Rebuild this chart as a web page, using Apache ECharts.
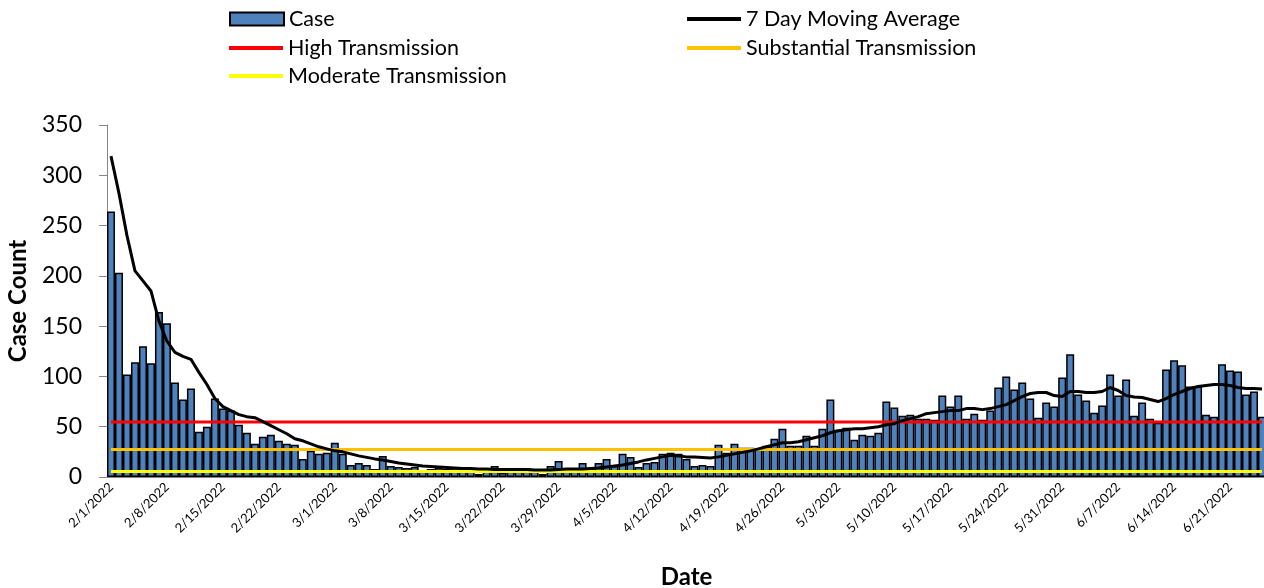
<!DOCTYPE html>
<html>
<head>
<meta charset="utf-8">
<script src="https://cdn.jsdelivr.net/npm/echarts@6/dist/echarts.min.js"></script>
<style>
  html, body { margin: 0; padding: 0; background: #fff; }
  #chart { width: 1264px; height: 588px; }
</style>
</head>
<body>
<div id="chart"></div>
<script>
// daily dates, 2/1/2022 onward (chart is cut at the right edge)
const dates = [];
for (let d = new Date(2022, 1, 1); dates.length < 145; d.setDate(d.getDate() + 1)) {
  dates.push((d.getMonth() + 1) + '/' + d.getDate() + '/' + d.getFullYear());
}

// daily case counts
const cases = [
  264, 203, 102, 114, 130, 113, 164, 153, 94, 77,
  88, 45, 50, 78, 68, 66, 52, 44, 33, 40,
  42, 36, 33, 32, 18, 26, 23, 24, 34, 23,
  12, 14, 12, 8, 21, 11, 10, 9, 10, 7,
  8, 9, 8, 9, 8, 7, 3, 8, 11, 4,
  7, 9, 9, 6, 3, 11, 16, 9, 9, 14,
  9, 14, 18, 11, 23, 20, 10, 14, 15, 23,
  24, 23, 18, 11, 12, 11, 32, 24, 33, 29,
  29, 28, 31, 38, 48, 31, 31, 41, 31, 48,
  77, 47, 49, 37, 42, 41, 44, 75, 69, 61,
  62, 58, 58, 57, 81, 70, 81, 58, 63, 57,
  66, 89, 100, 87, 94, 78, 59, 74, 70, 99,
  122, 82, 76, 64, 71, 102, 81, 97, 61, 74,
  58, 54, 107, 116, 111, 90, 90, 62, 60, 112,
  106, 105, 82, 85, 60
];

// 7 day moving average
const movingAvg = [
  319, 282, 240, 205, 195, 185, 155, 135, 124, 120,
  117, 104, 92, 78, 70, 66, 62, 60, 59, 55,
  51, 47, 43, 38, 36, 33, 30, 28, 26, 25,
  23, 21, 19.5, 18, 17, 15.5, 14, 13, 12, 11,
  10.5, 10, 9.5, 9, 8.5, 8.5, 8, 8, 7.5, 7.5,
  7.5, 7.5, 7.5, 7, 7, 7, 7.5, 8, 8, 8,
  8.5, 9, 10, 11, 12, 13.5, 15, 17, 18.5, 20,
  21.5, 21, 20, 20, 19.5, 19, 20, 21.5, 23, 24.5,
  26, 28, 30, 32, 34, 34, 35, 37, 39, 41,
  44, 46, 47, 48, 48, 49, 50, 52, 53, 56,
  58, 60, 63, 64, 65, 66, 66, 68, 68, 67,
  68, 70, 72, 76, 80, 83, 84, 84, 81, 80,
  85, 85, 84, 84, 85, 89, 86, 81, 79.5, 79,
  77, 75, 78, 82, 85, 88, 90, 91, 92, 92,
  91, 89, 88, 88, 87.5
];

// transmission thresholds (cases per day)
const highLevel = 54.7;
const substantialLevel = 27.35;
const moderateLevel = 5.47;

const font = 'Lato, "Open Sans", sans-serif';

function legendItem(name, left, centerY, isBox) {
  return {
    left: left,
    top: centerY - 12,
    padding: 0,
    itemWidth: 54,
    itemHeight: isBox ? 13 : 4,
    icon: 'rect',
    textStyle: { fontSize: 21.5, color: '#000', fontFamily: font, lineHeight: 24 },
    data: [name]
  };
}

let chart = echarts.init(document.getElementById('chart'));
chart.setOption({
  animation: false,
  textStyle: { fontFamily: font },
  legend: [
    legendItem('Case', 229, 19, true),
    legendItem('High Transmission', 229, 48, false),
    legendItem('Moderate Transmission', 229, 76, false),
    legendItem('7 Day Moving Average', 687, 19, false),
    legendItem('Substantial Transmission', 687, 48, false)
  ],
  grid: { left: 107, top: 125, width: 1159, height: 352, outerBoundsMode: 'none', containLabel: false },
  xAxis: {
    type: 'category',
    data: dates,
    name: 'Date',
    nameLocation: 'middle',
    nameGap: 88,
    nameTextStyle: { fontSize: 24, fontWeight: 'bold', color: '#000', fontFamily: font },
    axisLine: { lineStyle: { color: '#868686' } },
    axisTick: { interval: 6, length: 5, lineStyle: { color: '#868686' } },
    axisLabel: { interval: 6, rotate: 45, fontSize: 13, color: '#000', margin: 8, fontFamily: font }
  },
  yAxis: {
    type: 'value',
    min: 0,
    max: 350,
    interval: 50,
    name: 'Case Count',
    nameLocation: 'middle',
    nameRotate: 90,
    nameGap: 77,
    nameTextStyle: { fontSize: 24, fontWeight: 'bold', color: '#000', fontFamily: font },
    axisLine: { show: true, lineStyle: { color: '#868686' } },
    axisTick: { show: true, length: 8, lineStyle: { color: '#868686' } },
    axisLabel: { fontSize: 23, color: '#000', margin: 25, fontFamily: font },
    splitLine: { show: false }
  },
  series: [{
    name: 'Case',
    type: 'bar',
    data: cases,
    barCategoryGap: '0%',
    itemStyle: { color: '#4F81BD', borderColor: '#000', borderWidth: 1.5 }
  }, {
    name: '7 Day Moving Average',
    type: 'line',
    data: movingAvg,
    symbol: 'none',
    z: 5,
    lineStyle: { color: '#000', width: 3 },
    itemStyle: { color: '#000' }
  }, {
    name: 'High Transmission',
    type: 'line',
    data: dates.map(() => highLevel),
    symbol: 'none',
    z: 4,
    lineStyle: { color: '#FF0000', width: 3 },
    itemStyle: { color: '#FF0000' }
  }, {
    name: 'Substantial Transmission',
    type: 'line',
    data: dates.map(() => substantialLevel),
    symbol: 'none',
    z: 4,
    lineStyle: { color: '#FFC000', width: 3 },
    itemStyle: { color: '#FFC000' }
  }, {
    name: 'Moderate Transmission',
    type: 'line',
    data: dates.map(() => moderateLevel),
    symbol: 'none',
    z: 4,
    lineStyle: { color: '#FFFF00', width: 3 },
    itemStyle: { color: '#FFFF00' }
  }]
});
</script>
</body>
</html>
